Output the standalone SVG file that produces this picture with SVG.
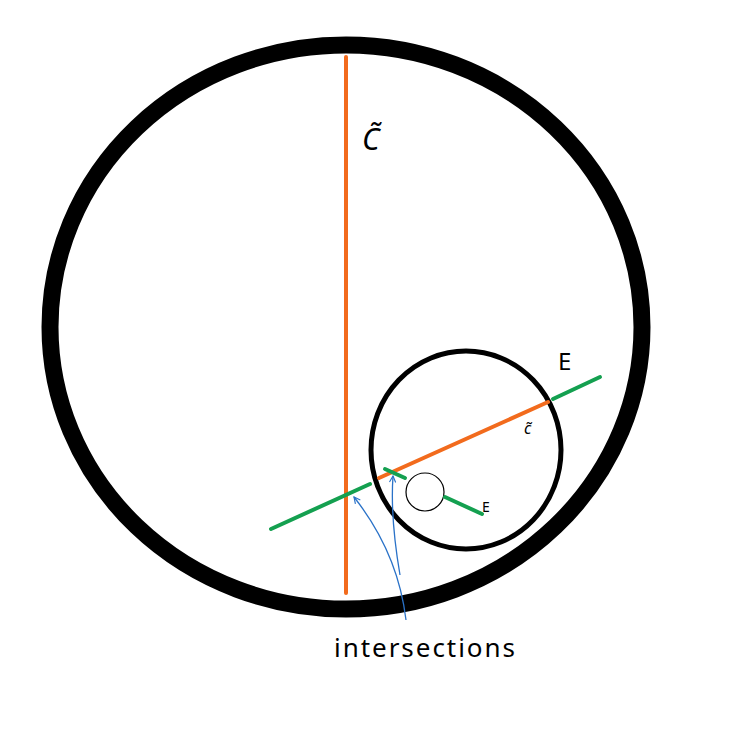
<svg xmlns="http://www.w3.org/2000/svg" width="738" height="743" viewBox="0 0 738 743">
<defs>
<style>
.or{stroke:#f26b1d;stroke-width:4;stroke-linecap:round;fill:none}
.gr{stroke:#14a050;stroke-width:4;stroke-linecap:round;fill:none}
.bl{stroke:#2a72c8;stroke-width:1.3;fill:none;marker-end:url(#ah)}
.t{font-family:"Noto Sans",sans-serif;fill:#000}
</style>
<marker id="ah" viewBox="0 0 10 10" refX="9" refY="5" markerWidth="6" markerHeight="6" orient="auto"><path d="M1 1 L9 5 L1 9" fill="none" stroke="#2a72c8" stroke-width="1.5"/></marker>
</defs>
<rect width="738" height="743" fill="#fff"/>
<g id="outer"><ellipse cx="346" cy="327" rx="296" ry="282" fill="none" stroke="#000" stroke-width="17"/></g>
<g id="inner"><ellipse cx="466" cy="450" rx="95" ry="99" fill="none" stroke="#000" stroke-width="5"/></g>
<g id="small"><circle cx="425" cy="492" r="19" fill="none" stroke="#000" stroke-width="1.2"/></g>
<g id="connectors">
<line class="or" x1="346" y1="57" x2="346" y2="593"/>
<line class="or" x1="379" y1="478" x2="548" y2="402"/>
<line class="gr" x1="271" y1="529" x2="370" y2="484"/>
<line class="gr" x1="553" y1="399" x2="600" y2="377"/>
<line class="gr" x1="385" y1="469" x2="405" y2="478"/>
<line class="gr" x1="445" y1="497" x2="482" y2="514"/>
<path class="bl" d="M406 620 C400 570 380 530 354 497"/>
<path class="bl" d="M400 575 C394 540 391 505 393 476"/>
</g>
<g id="labels">
<text class="t" x="362" y="150" font-size="30" font-style="italic">C̃</text>
<text class="t" x="558" y="370" font-size="24">E</text>
<text class="t" x="524" y="434" font-size="16" font-style="italic">c̃</text>
<text class="t" x="482" y="512" font-size="14">E</text>
<text class="t" x="334" y="657" font-size="26" textLength="181" lengthAdjust="spacing">intersections</text>
</g>
</svg>
